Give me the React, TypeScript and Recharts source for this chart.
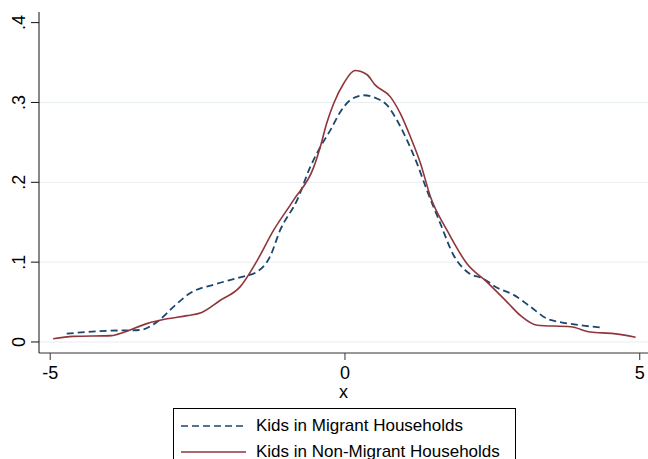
import { LineChart, Line, XAxis, YAxis, CartesianGrid, Legend } from "recharts";

const FONT = "'Liberation Sans', Arial, sans-serif";

// kernel density estimates
const migrantX = [
  -4.72, -4.04, -3.48, -3.19, -2.91, -2.63, -2.17, -1.78, -1.49, -1.27, -1.1, -0.81,
  -0.59, -0.42, -0.25, -0.08, 0.09, 0.32, 0.54, 0.71, 0.88, 1.05, 1.22, 1.39, 1.62,
  1.84, 2.07, 2.35, 2.58, 2.86, 3.15, 3.43, 3.65, 3.99, 4.36,
];
const migrantY = [
  0.0105, 0.014, 0.015, 0.025, 0.044, 0.061, 0.073, 0.081, 0.088, 0.107, 0.14, 0.178,
  0.219, 0.244, 0.265, 0.288, 0.303, 0.309, 0.305, 0.297, 0.278, 0.253, 0.224, 0.19,
  0.148, 0.109, 0.088, 0.079, 0.068, 0.059, 0.044, 0.029, 0.025, 0.021, 0.018,
];
const nonMigrantX = [
  -4.95, -4.61, -3.96, -3.76, -3.36, -3.02, -2.68, -2.43, -2.12, -1.78, -1.49, -1.21,
  -0.87, -0.53, -0.42, -0.31, -0.19, -0.02, 0.17, 0.37, 0.51, 0.77, 0.94, 1.11, 1.28,
  1.45, 1.73, 2.07, 2.41, 2.75, 2.98, 3.26, 3.83, 4.16, 4.56, 4.93,
];
const nonMigrantY = [
  0.004, 0.007, 0.008, 0.012, 0.023, 0.029, 0.033, 0.037, 0.052, 0.069, 0.102, 0.14,
  0.178, 0.219, 0.244, 0.274, 0.299, 0.324, 0.34, 0.335, 0.322, 0.307, 0.286, 0.257,
  0.224, 0.182, 0.14, 0.098, 0.075, 0.05, 0.033, 0.021, 0.019, 0.0125, 0.0105, 0.006,
];

const seriesNames = ["Kids in Migrant Households", "Kids in Non-Migrant Households"];
const xTicks = [-5, 0, 5];
const yTicks = [0, 0.1, 0.2, 0.3, 0.4];
const gridValues = [0, 0.1, 0.2, 0.3];

const migrant = migrantX.map((x, i) => ({ x, y: migrantY[i] }));
const nonMigrant = nonMigrantX.map((x, i) => ({ x, y: nonMigrantY[i] }));

const BLUE = "#1a476f";
const RED = "#90353b";

const fmtY = (v: number) => (v === 0 ? "0" : v.toFixed(1).replace(/^0\./, "."));

const YTick = ({ x, y, payload }: any) => (
  <text
    transform={`translate(${x - 6},${y}) rotate(-90)`}
    textAnchor="middle"
    fontSize={18}
    fill="#000"
    fontFamily={FONT}
  >
    {fmtY(payload.value)}
  </text>
);

const XTick = ({ x, y, payload }: any) => (
  <text x={x} y={y + 19} textAnchor="middle" fontSize={18} fill="#000" fontFamily={FONT}>
    {payload.value}
  </text>
);

const LegendBox = () => (
  <div
    style={{
      boxSizing: "border-box",
      width: 343,
      height: 51,
      border: "1px solid #000",
      borderBottom: "none",
      background: "#fff",
      fontFamily: FONT,
      fontSize: 17,
      color: "#000",
      paddingTop: 4,
    }}
  >
    {seriesNames.map((name, i) => (
      <div key={name} style={{ display: "flex", alignItems: "center", height: 26 }}>
        <svg width={82} height={10}>
          <line
            x1={7}
            x2={72}
            y1={5}
            y2={5}
            stroke={i === 0 ? BLUE : RED}
            strokeWidth={1.6}
            strokeDasharray={i === 0 ? "7 4" : undefined}
          />
        </svg>
        <span>{name}</span>
      </div>
    ))}
  </div>
);

export default function App() {
  return (
    <div style={{ position: "absolute", left: 0, top: 0, width: 648, height: 459, overflow: "hidden", background: "#fff" }}>
      <LineChart width={648} height={459} margin={{ top: 12, right: 0, bottom: 0, left: 0 }}>
        <CartesianGrid horizontal vertical={false} horizontalValues={gridValues} stroke="#e6eef2" />
        <XAxis
          type="number"
          dataKey="x"
          domain={[-5.19, 5.14]}
          allowDataOverflow
          ticks={xTicks}
          height={106}
          tickSize={7}
          tickMargin={0}
          stroke="#333"
          tick={<XTick />}
          label={{ value: "x", position: "insideTop", offset: 32, fill: "#000", fontSize: 18, fontFamily: FONT }}
        />
        <YAxis
          type="number"
          dataKey="y"
          domain={[-0.0138, 0.4133]}
          allowDataOverflow
          ticks={yTicks}
          width={39}
          tickSize={8}
          tickMargin={0}
          stroke="#111"
          tick={<YTick />}
        />
        <Legend
          layout="vertical"
          align="center"
          verticalAlign="middle"
          content={<LegendBox />}
          wrapperStyle={{ left: 173, top: 408, width: 343, height: 51 }}
        />
        <Line
          data={migrant}
          dataKey="y"
          name={seriesNames[0]}
          type="monotone"
          stroke={BLUE}
          strokeWidth={1.8}
          strokeDasharray="7 4"
          dot={false}
          isAnimationActive={false}
        />
        <Line
          data={nonMigrant}
          dataKey="y"
          name={seriesNames[1]}
          type="monotone"
          stroke={RED}
          strokeWidth={1.6}
          dot={false}
          isAnimationActive={false}
        />
      </LineChart>
    </div>
  );
}
